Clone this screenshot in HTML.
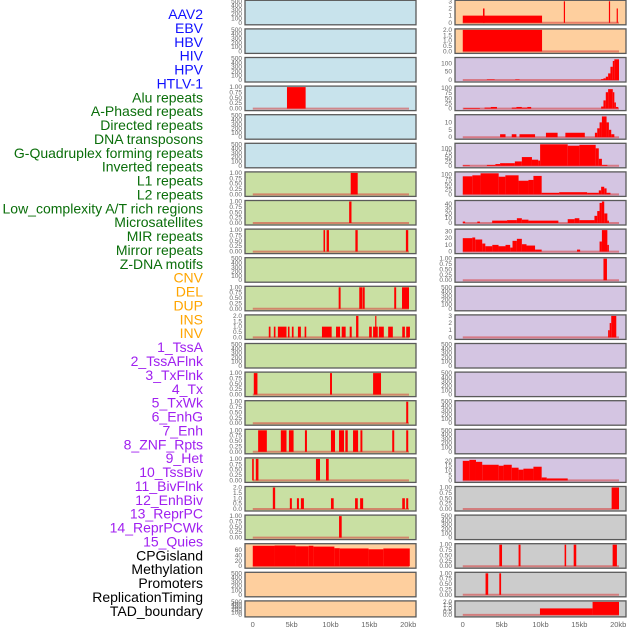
<!DOCTYPE html>
<html><head><meta charset="utf-8"><style>
html,body{margin:0;padding:0;background:#fff;}
svg{display:block;font-family:"Liberation Sans",sans-serif;}
</style></head><body>
<svg id="c" width="630" height="630"></svg>
<script>
const trackLabels = ["AAV2","EBV","HBV","HIV","HPV","HTLV-1","Alu repeats","A-Phased repeats","Directed repeats","DNA transposons","G-Quadruplex forming repeats","Inverted repeats","L1 repeats","L2 repeats","Low_complexity A/T rich regions","Microsatellites","MIR repeats","Mirror repeats","Z-DNA motifs","CNV","DEL","DUP","INS","INV","1_TssA","2_TssAFlnk","3_TxFlnk","4_Tx","5_TxWk","6_EnhG","7_Enh","8_ZNF_Rpts","9_Het","10_TssBiv","11_BivFlnk","12_EnhBiv","13_ReprPC","14_ReprPCWk","15_Quies","CPGisland","Methylation","Promoters","ReplicationTiming","TAD_boundary"];
const labelGroups = [6,13,5,15,5];
const groupColors = ["#1010ff","#0a6e0a","#ffa500","#a020f0","#000000"];
const xTickLabels = ["0","5kb","10kb","15kb","20kb"];
const xTickValues = [0,5,10,15,20];

// bar segments: [startKb, endKb, value]
const L3=[[4.4,6.8,1]];
const L6=[[12.6,13.5,1]];
const L7=[[12.4,12.7,1]];
const L8=[[9.1,9.3,1],[9.5,9.8,1],[13.2,13.5,1],[19.7,20.0,1]];
const L10=[[11.05,11.3,1],[13.7,14.1,1],[14.15,14.4,1],[18.2,18.45,1],[19.2,20.1,1]];
const L11=[[2.06,2.28,1],[2.71,2.92,1],[3.23,4.34,1],[4.52,4.73,1],[5.03,5.25,1],[5.81,6.19,1],[6.67,6.88,1],[8.9,10.15,1],[10.71,11.23,1],[11.44,11.95,1],[12.47,12.73,1],[13.29,13.59,2],[14.97,15.31,1],[15.48,16.08,1],[15.75,15.9,2],[16.22,16.86,1],[17.42,18.02,1],[19.23,19.57,1],[19.74,20.22,1]];
const L13=[[0.13,0.6,1],[9.94,10.19,1],[15.48,16.5,1]];
const L14=[[19.74,20.0,1]];
const L15=[[0.69,1.81,1],[3.61,4.34,1],[4.65,5.25,1],[6.71,6.97,1],[10.06,10.58,1],[11.1,11.74,1],[11.91,12.22,1],[12.9,13.55,1],[13.85,14.1,1],[17.94,18.2,1],[19.74,20.0,1]];
const L16=[[-0.08,0.13,1],[0.39,0.73,1],[8.13,8.65,1],[9.42,9.77,1]];
const L17=[[2.58,2.88,2],[4.77,5.03,1],[5.68,5.94,1],[6.19,6.58,1],[10.06,10.41,1],[13.16,13.51,1],[13.81,14.2,1],[19.23,19.57,1],[19.74,20.0,1]];
const L18=[[11.1,11.44,1]];
const L19=[[0,2.8,76],[2.8,5.5,77],[5.5,7.2,74],[7.2,7.8,76],[7.8,10.5,73],[10.5,11.2,67],[11.2,14.9,66],[14.9,16.8,63],[16.8,20.2,66]];

const R0=[[0,10.2,1],[2.6,2.8,2],[13.0,13.15,3],[18.8,18.95,3],[19.8,19.95,2]];
const R1=[[0,10.2,2]];
const R2=[[3.1,4.1,3],[6.75,7.3,3],[17.8,18.1,5],[18.1,18.4,10],[18.4,18.7,20],[18.7,19.0,40],[19.0,19.3,80],[19.3,19.5,115],[19.5,20.1,125]];
const R3=[[0.1,2.2,3],[2.8,3.6,5],[3.6,4.4,8],[6.3,6.9,5],[6.9,7.6,8],[7.6,8.3,5],[8.3,8.8,8],[17.8,18.1,10],[18.1,18.4,40],[18.4,18.7,80],[18.7,19.3,95],[19.3,19.5,80],[19.5,19.7,30],[19.7,20,8]];
const R4=[[4.8,5.5,2],[6.3,6.9,2],[7.3,9.3,2],[10.7,12.2,3],[13.2,15.7,3],[17.0,17.3,3],[17.3,17.6,6],[17.6,17.9,10],[17.9,18.5,14],[18.5,18.8,10],[18.8,19.1,5],[19.1,19.5,2]];
const R5=[[0,0.9,3],[3.1,4.2,5],[4.2,4.8,10],[4.8,5.5,15],[5.5,6.7,15],[6.7,7.6,25],[7.6,8.9,50],[8.9,9.7,35],[9.7,9.95,30],[9.95,13.5,123],[13.5,15.0,115],[15.0,17.1,120],[17.1,17.5,100],[17.5,17.9,40],[17.9,18.6,5]];
const R6=[[0,1.23,90],[1.23,2.29,95],[2.29,4.62,105],[4.62,5.48,88],[5.48,7.18,95],[7.18,8.45,68],[8.45,9.09,72],[9.09,10.15,92],[10.15,12.4,8],[12.4,16.0,11],[16.0,17.5,8],[17.5,17.8,20],[17.8,18.2,38],[18.2,18.5,30],[18.5,19.0,8]];
const R7=[[0,0.3,3],[1.87,2.2,3],[3.78,5.7,5],[5.7,6.96,6],[6.96,7.6,10],[7.6,8.45,7],[8.45,12.3,5],[13.5,14.4,8],[14.4,15.0,10],[15.0,16.94,6],[16.94,17.3,15],[17.3,17.6,25],[17.6,17.9,42],[17.9,18.2,45],[18.2,18.6,20],[18.6,18.8,5]];
const R8=[[0,1.23,20],[1.23,1.6,21],[1.6,2.5,18],[2.5,2.9,12],[2.9,3.8,8],[3.8,4.6,10],[4.6,5.5,8],[5.5,6.1,10],[6.1,6.4,6],[6.4,6.96,16],[6.96,7.6,19],[7.6,8.2,11],[8.2,9.3,9],[9.3,10.15,3],[14.7,15.1,3],[17.6,17.9,15],[17.9,18.6,32],[18.6,18.8,10]];
const R9=[[18.1,18.55,1]];
const R11=[[18.7,18.9,1],[18.9,19.1,2],[19.1,19.75,3]];
const R16=[[0,0.85,20],[0.85,1.7,21],[1.7,2.5,19],[2.5,4.62,16],[4.62,5.25,15],[5.25,6.3,16],[6.3,7.18,13],[7.18,7.8,11],[7.8,9.09,12],[9.09,10.15,14],[10.15,10.8,3],[10.8,13.5,2]];
const R17=[[19.15,20.1,1]];
const R19=[[4.7,5.05,1],[7.18,7.43,1],[13.1,13.3,1],[14.27,14.6,1],[19.28,19.83,1]];
const R20=[[2.93,3.27,1],[4.7,4.93,1]];
const R21=[[9.93,16.7,1],[16.7,20.1,2]];

const T01=["0.00","0.25","0.50","0.75","1.00"], V01=[0,0.25,0.5,0.75,1];
const T02=["0.0","0.5","1.0","1.5","2.0"], V02=[0,0.5,1,1.5,2];
const T500=["0","100","200","300","400","500"], V500=[0,100,200,300,400,500];

const BLUE="#c8e3ec",GREEN="#c9e0a3",PURP="#d4c5e2",ORNG="#fecf9e",GREY="#cccccc";
const leftBg=[BLUE,BLUE,BLUE,BLUE,BLUE,BLUE,GREEN,GREEN,GREEN,GREEN,GREEN,GREEN,GREEN,GREEN,GREEN,GREEN,GREEN,GREEN,GREEN,ORNG,ORNG,ORNG];
const rightBg=[ORNG,ORNG,PURP,PURP,PURP,PURP,PURP,PURP,PURP,PURP,PURP,PURP,PURP,PURP,PURP,PURP,PURP,GREY,GREY,GREY,GREY,GREY];
const leftData={3:[L3,1,V01,T01],6:[L6,1,V01,T01],7:[L7,1,V01,T01],8:[L8,1,V01,T01],10:[L10,1,V01,T01],11:[L11,2,V02,T02],13:[L13,1,V01,T01],14:[L14,1,V01,T01],15:[L15,1,V01,T01],16:[L16,1,V01,T01],17:[L17,2,V02,T02],18:[L18,1,V01,T01],19:[L19,80,[0,20,40,60],["0","20","40","60"]]};
const rightData={0:[R0,3,[0,1,2,3],["0","1","2","3"]],1:[R1,2,V02,T02],2:[R2,130,[0,50,100],["0","50","100"]],3:[R3,105,[0,25,50,75,100],["0","25","50","75","100"]],4:[R4,14.5,[0,5,10],["0","5","10"]],5:[R5,123,[0,25,50,75,100],["0","25","50","75","100"]],6:[R6,107,[0,25,50,75,100],["0","25","50","75","100"]],7:[R7,45,[0,10,20,30,40],["0","10","20","30","40"]],8:[R8,32,[0,10,20,30],["0","10","20","30"]],9:[R9,1,V01,T01],11:[R11,3,[0,1,2,3],["0","1","2","3"]],16:[R16,22,[0,5,10,15,20],["0","5","10","15","20"]],17:[R17,1,V01,T01],19:[R19,1,V01,T01],20:[R20,1,V01,T01],21:[R21,2,V02,T02]};

const NS="http://www.w3.org/2000/svg";
const svg=document.getElementById("c");
function mk(tag,attrs,parent){const e=document.createElementNS(NS,tag);for(const k in attrs)e.setAttribute(k,attrs[k]);(parent||svg).appendChild(e);return e;}

// labels
let li=0;
labelGroups.forEach((n,g)=>{for(let k=0;k<n;k++){const t=mk("text",{x:203,y:14+li*13.88+5,"text-anchor":"end","font-size":"14",fill:groupColors[g]});


t.textContent=trackLabels[li];li++;}});

function panel(colX,row,bg,d,nm){
  const top=row*28.6+0.3, h=row===21?16:24.5, w=171;
  const g=mk("g",{});
  
  
  mk("rect",{x:colX,y:top,width:w,height:h,fill:bg,stroke:"#5a5a5a","stroke-width":1.3},g);
  const xs=kb=>colX+(kb+1)*(w/22);
  const ymax=d?d[1]:500;
  const ys=v=>top+1+(1-v/ymax)*(h-3);
  const vals=d?d[2]:V500, labs=d?d[3]:T500;
  vals.forEach((v,i)=>{const t=mk("text",{x:colX-3,y:ys(v)+2,"text-anchor":"end","font-size":"6.5",fill:"#666"},g);
    
    
    t.textContent=labs[i];});
  if(d){
    mk("line",{x1:xs(0),x2:xs(20.1),y1:ys(0),y2:ys(0),stroke:"rgba(215,60,60,0.55)","stroke-width":2},g);
    d[0].forEach(s=>{const r=mk("rect",{x:xs(s[0]),y:ys(Math.min(s[2],ymax)),width:Math.max(xs(s[1])-xs(s[0]),1.2),height:ys(0)-ys(Math.min(s[2],ymax)),fill:"#ff0000"},g);
      
      });
  }
}
for(let r=0;r<22;r++){panel(245,r,leftBg[r],leftData[r],'left-panel-'+r);panel(455,r,rightBg[r],rightData[r],'right-panel-'+r);}

[245,455].forEach((cx,ci)=>{xTickValues.forEach((v,i)=>{const t=mk("text",{x:cx+(v+1)*(171/22),y:627,"text-anchor":"middle","font-size":"7.5",fill:"#666"});
  
  
  t.textContent=xTickLabels[i];});});
</script>
</body></html>
